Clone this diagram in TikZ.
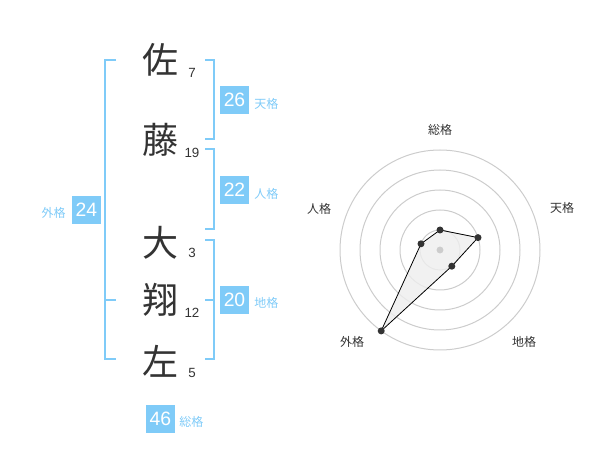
\documentclass[tikz,border=0pt]{standalone}
\usepackage{fontspec}
\setmainfont{Liberation Sans}
\newfontfamily\cjk{Noto Sans CJK JP}
\definecolor{kblue}{HTML}{7FCBF8}
\definecolor{ktext}{HTML}{333333}
\definecolor{kgrid}{HTML}{CCCCCC}
\definecolor{kfill}{HTML}{EEEEEE}
\tikzset{
  kanji/.style={font=\cjk\fontsize{27}{27}\selectfont, text=ktext, inner sep=0pt},
  strokes/.style={font=\fontsize{10}{10}\selectfont, text=ktext, inner sep=0pt},
  numbox/.style={fill=kblue, text=white, font=\fontsize{14.5}{14.5}\selectfont, minimum width=21.75pt, minimum height=21pt, inner sep=0pt},
  kaku/.style={text=kblue, font=\cjk\fontsize{9}{9}\selectfont, inner sep=0pt},
  bracket/.style={draw=kblue, line width=1.5pt},
  grid/.style={draw=kgrid, line width=0.75pt},
  rlabel/.style={text=ktext, font=\cjk\fontsize{9}{9}\selectfont, inner sep=0pt},
  pt/.style={circle, fill=ktext, minimum size=5.25pt, inner sep=0pt}
}
\begin{document}
\begin{tikzpicture}[x=0.75pt,y=-0.75pt]
\useasboundingbox (0,0) rectangle (600,470);
% kanji
\node[kanji] (k1) at (160,60) {佐};
\node[kanji] (k2) at (160,140) {藤};
\node[kanji] (k3) at (160,243) {大};
\node[kanji] (k4) at (160,300) {翔};
\node[kanji] (k5) at (160,361) {左};
% strokes
\node[strokes] (s1) at (192,73) {7};
\node[strokes] (s2) at (192,153) {19};
\node[strokes] (s3) at (192,253) {3};
\node[strokes] (s4) at (192,313) {12};
\node[strokes] (s5) at (192,373) {5};
% brackets
\draw[bracket] (116,60) -- (105,60) -- (105,359) -- (116,359);
\draw[bracket] (105,300) -- (116,300);
\draw[bracket] (205,60) -- (214,60) -- (214,139) -- (205,139);
\draw[bracket] (205,149) -- (214,149) -- (214,229) -- (205,229);
\draw[bracket] (205,240) -- (214,240) -- (214,359) -- (205,359);
\draw[bracket] (205,300) -- (214,300);
% boxes
\node[numbox] (ten) at (234.5,100) {26};
\node[kaku, anchor=west] (tenl) at (254,104) {天格};
\node[numbox] (jin) at (234.5,190) {22};
\node[kaku, anchor=west] (jinl) at (254,194) {人格};
\node[numbox] (chi) at (234.5,300) {20};
\node[kaku, anchor=west] (chil) at (254,303) {地格};
\node[numbox] (gai) at (86.5,210) {24};
\node[kaku, anchor=east] (gail) at (66,213) {外格};
\node[numbox] (sou) at (160.5,419) {46};
\node[kaku, anchor=west] (soul) at (179,422) {総格};
% radar
\coordinate (C) at (440,250);
\foreach \r in {15,30,45,60,75} \draw[grid] (C) circle[radius=\r pt];
\coordinate (p1) at (440,230);
\coordinate (p2) at (478.0,237.6);
\coordinate (p3) at (451.8,266.2);
\coordinate (p4) at (381.2,330.9);
\coordinate (p5) at (421.0,243.8);
\fill[kfill, fill opacity=0.8] (p1) -- (p2) -- (p3) -- (p4) -- (p5) -- cycle;
\fill[kgrid] (C) circle[radius=2.6pt];
\draw[black, line width=0.6pt] (p1) -- (p2) -- (p3) -- (p4) -- (p5) -- cycle;
\foreach \p in {p1,p2,p3,p4,p5} \node[pt] at (\p) {};
\node[rlabel] (r1) at (440,130) {総格};
\node[rlabel] (r2) at (562,208) {天格};
\node[rlabel] (r3) at (524,342) {地格};
\node[rlabel] (r4) at (352,342) {外格};
\node[rlabel] (r5) at (319,209) {人格};
\end{tikzpicture}
\end{document}
